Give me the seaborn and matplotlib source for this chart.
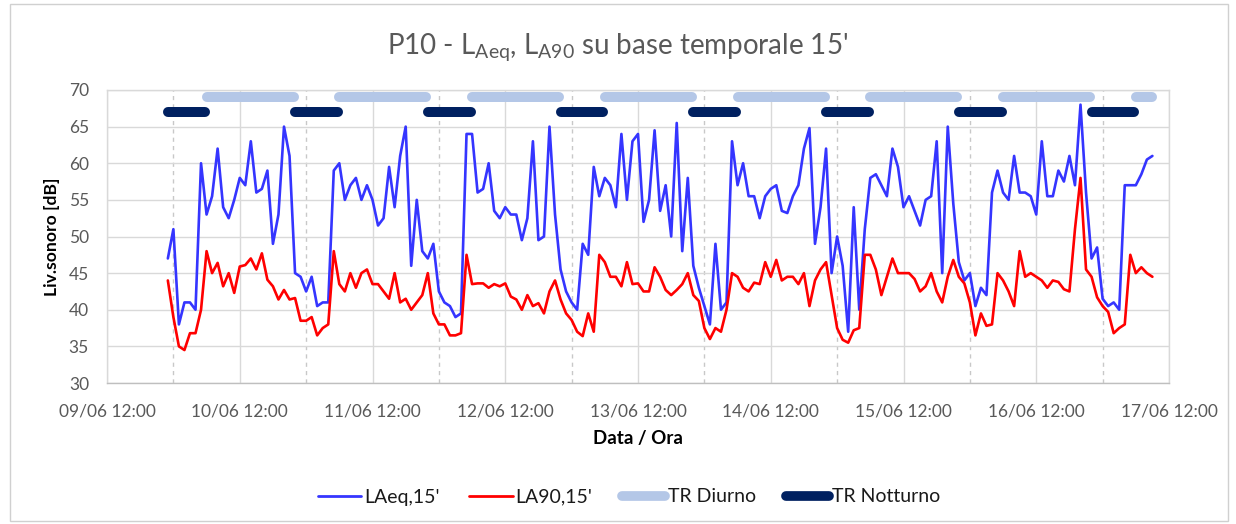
import numpy as np
import pandas as pd
import matplotlib
matplotlib.use("Agg")
import matplotlib.pyplot as plt
import matplotlib.dates as mdates
from matplotlib.lines import Line2D
from matplotlib.patches import Rectangle
import seaborn as sns

# Hourly levels from 09/06 23:00 onwards [dB]
laeq = [
    47, 51, 38, 41, 41, 40, 60, 53, 55.5, 62, 54, 52.5, 55, 58, 57, 63, 56, 56.5, 59, 49, 53, 65, 61, 45,
    44.5, 42.5, 44.5, 40.5, 41, 41, 59, 60, 55, 57, 58, 55, 57, 55, 51.5, 52.5, 59.5, 54, 61, 65, 46, 55, 48, 47,
    49, 42.5, 41, 40.5, 39, 39.5, 64, 64, 56, 56.5, 60, 53.5, 52.5, 54, 53, 53, 49.5, 52.5, 63, 49.5, 50, 65,
    53, 45.5, 42.5, 41, 40, 49, 47.5, 59.5, 55.5, 58, 57, 54, 64, 55, 63, 64, 52, 55, 64.5, 53.5, 57, 50,
    65.5, 48, 58, 46, 43, 40.5, 38, 49, 40, 41, 63, 57, 60, 55.5, 55.5, 52.5, 55.5, 56.5, 57, 53.5, 53.2, 55.5,
    57, 62, 64.8, 49, 54, 62, 45, 50, 46, 37, 54, 40, 51, 58, 58.5, 57, 55.5, 62, 59.5, 54, 55.5, 53.5,
    51.5, 55, 55.5, 63, 45, 65, 54.5, 46.5, 44, 45, 40.5, 43, 42, 56, 59, 56, 55, 61, 56, 56, 55.5, 53,
    63, 55.5, 55.5, 59, 57.5, 61, 57, 68, 56, 47, 48.5, 41.5, 40.5, 41, 40, 57, 57, 57, 58.5, 60.5, 61,
]
la90 = [
    44, 39, 35, 34.5, 36.8, 36.8, 40, 48, 45, 46.4, 43.2, 45, 42.3, 45.9, 46.1, 47, 45.5, 47.7, 44.1, 43.2, 41.4, 42.7, 41.4, 41.6,
    38.5, 38.5, 39, 36.5, 37.5, 38, 48, 43.5, 42.5, 45, 43, 45, 45.5, 43.5, 43.5, 42.5, 41.5, 45, 41, 41.5, 40, 41, 42, 45,
    39.5, 38, 38, 36.5, 36.5, 36.8, 47.5, 43.5, 43.6, 43.6, 43, 43.5, 43.2, 43.6, 41.8, 41.4, 40, 42, 40.5, 40.9, 39.5, 42.5,
    44, 41.4, 39.5, 38.6, 37, 36.4, 39.5, 37, 47.5, 46.5, 44.5, 44.5, 43.2, 46.5, 43.5, 43.6, 42.5, 42.5, 45.8, 44.5, 42.7, 42,
    42.7, 43.5, 45, 42, 41.2, 37.5, 36, 37.5, 37, 40, 45, 44.5, 43, 42.5, 43.7, 43.5, 46.5, 44.5, 46.8, 44, 44.5, 44.5,
    43.5, 45, 40.5, 44, 45.5, 46.5, 42, 37.5, 35.9, 35.5, 37.2, 37.5, 47.5, 47.5, 45.5, 42, 44.5, 47, 45, 45, 45, 44.2,
    42.5, 43.2, 45, 42.5, 41, 44.5, 46.8, 44.5, 43.6, 41, 36.5, 39.5, 37.8, 38, 45, 44, 42.5, 40.5, 48, 44.5, 45, 44.5,
    44, 43, 44, 43.8, 42.8, 42.5, 51, 58, 45.5, 44.5, 41.7, 40.5, 39.7, 36.8, 37.5, 38, 47.5, 45, 45.8, 45, 44.5,
]

start = "2024-06-09 23:00"
day_start_hour, night_start_hour = 6, 22
level_diurno, level_notturno = 69, 67

x_min, x_max = "2024-06-09 12:00", "2024-06-17 12:00"
y_min, y_max, y_step = 30, 70, 5

title = r"P10 - $\mathregular{L_{Aeq}}$, $\mathregular{L_{A90}}$ su base temporale 15'"
series_names = ["LAeq,15'", "LA90,15'", "TR Diurno", "TR Notturno"]
colors = ["#3535FF", "#FF0000", "#B4C7E7", "#002060"]

times = pd.date_range(start, periods=len(laeq), freq="h")
df = pd.DataFrame({"time": times, "LAeq": laeq, "LA90": la90})

# Reference-time bands on a 15-minute grid covering the measurement
t15 = pd.date_range(times[0], times[-1], freq="15min")
is_day = (t15.hour >= day_start_hour) & (t15.hour < night_start_hour)
diurno = np.where(is_day, level_diurno, np.nan)
notturno = np.where(~is_day, level_notturno, np.nan)

sns.set_style("white")
plt.rcParams["font.family"] = ["Lato", "DejaVu Sans"]
plt.rcParams["mathtext.default"] = "regular"

fig = plt.figure(figsize=(12.36, 5.24), dpi=100)
ax = fig.add_axes([107 / 1236, 1 - 383 / 524, (1169 - 107) / 1236, (383 - 90) / 524])

# chart border
fig.patches.append(Rectangle((10 / 1236, 3 / 524), 1218 / 1236, 517 / 524,
                             transform=fig.transFigure, fill=False,
                             edgecolor="#d0d0d0", lw=1.0))

sns.lineplot(data=df, x="time", y="LAeq", color=colors[0], lw=1.9, ax=ax, zorder=3)
sns.lineplot(data=df, x="time", y="LA90", color=colors[1], lw=1.9, ax=ax, zorder=3)
ax.plot(t15, diurno, color=colors[2], lw=7.2, solid_capstyle="round", zorder=4)
ax.plot(t15, notturno, color=colors[3], lw=7.2, solid_capstyle="round", zorder=4)

ax.set_xlim(pd.Timestamp(x_min), pd.Timestamp(x_max))
ax.set_ylim(y_min, y_max)
ax.set_yticks(np.arange(y_min, y_max + 1, y_step))

ax.xaxis.set_major_locator(mdates.HourLocator(byhour=[12]))
ax.xaxis.set_minor_locator(mdates.HourLocator(byhour=[0]))
ax.xaxis.set_major_formatter(mdates.DateFormatter("%d/%m %H:%M"))

ax.grid(True, which="major", color="#d9d9d9", lw=1.0)
ax.grid(True, which="minor", axis="x", color="#c8c8c8", lw=1.0, ls=(0, (3, 3)))
ax.set_axisbelow(True)
for side, sp in ax.spines.items():
    sp.set_color("#d9d9d9")
    sp.set_linewidth(1.0)
ax.spines["bottom"].set_color("#bfbfbf")

ax.tick_params(axis="both", which="both", length=0, labelsize=12.5, labelcolor="#595959")
ax.tick_params(axis="x", pad=15)
ax.tick_params(axis="y", pad=13)

ax.set_xlabel("Data / Ora", fontsize=13.5, fontweight="bold", color="#000000", labelpad=7)
ax.set_ylabel("Liv.sonoro [dB]", fontsize=12.6, fontweight="bold", color="#000000", labelpad=6)

fig.text(0.5, 1 - 47 / 524, title, ha="center", va="center", fontsize=20, color="#595959")

handles = [
    Line2D([], [], color=colors[0], lw=2.0),
    Line2D([], [], color=colors[1], lw=2.0),
    Line2D([], [], color=colors[2], lw=7, solid_capstyle="round"),
    Line2D([], [], color=colors[3], lw=7, solid_capstyle="round"),
]
fig.legend(handles, series_names, loc="center", bbox_to_anchor=(0.509, 1 - 497 / 524),
           ncol=4, frameon=False, fontsize=14, handlelength=2.25, handletextpad=0.15,
           columnspacing=1.5, labelcolor="#1a1a1a")

fig.savefig("out.png", dpi=100)
